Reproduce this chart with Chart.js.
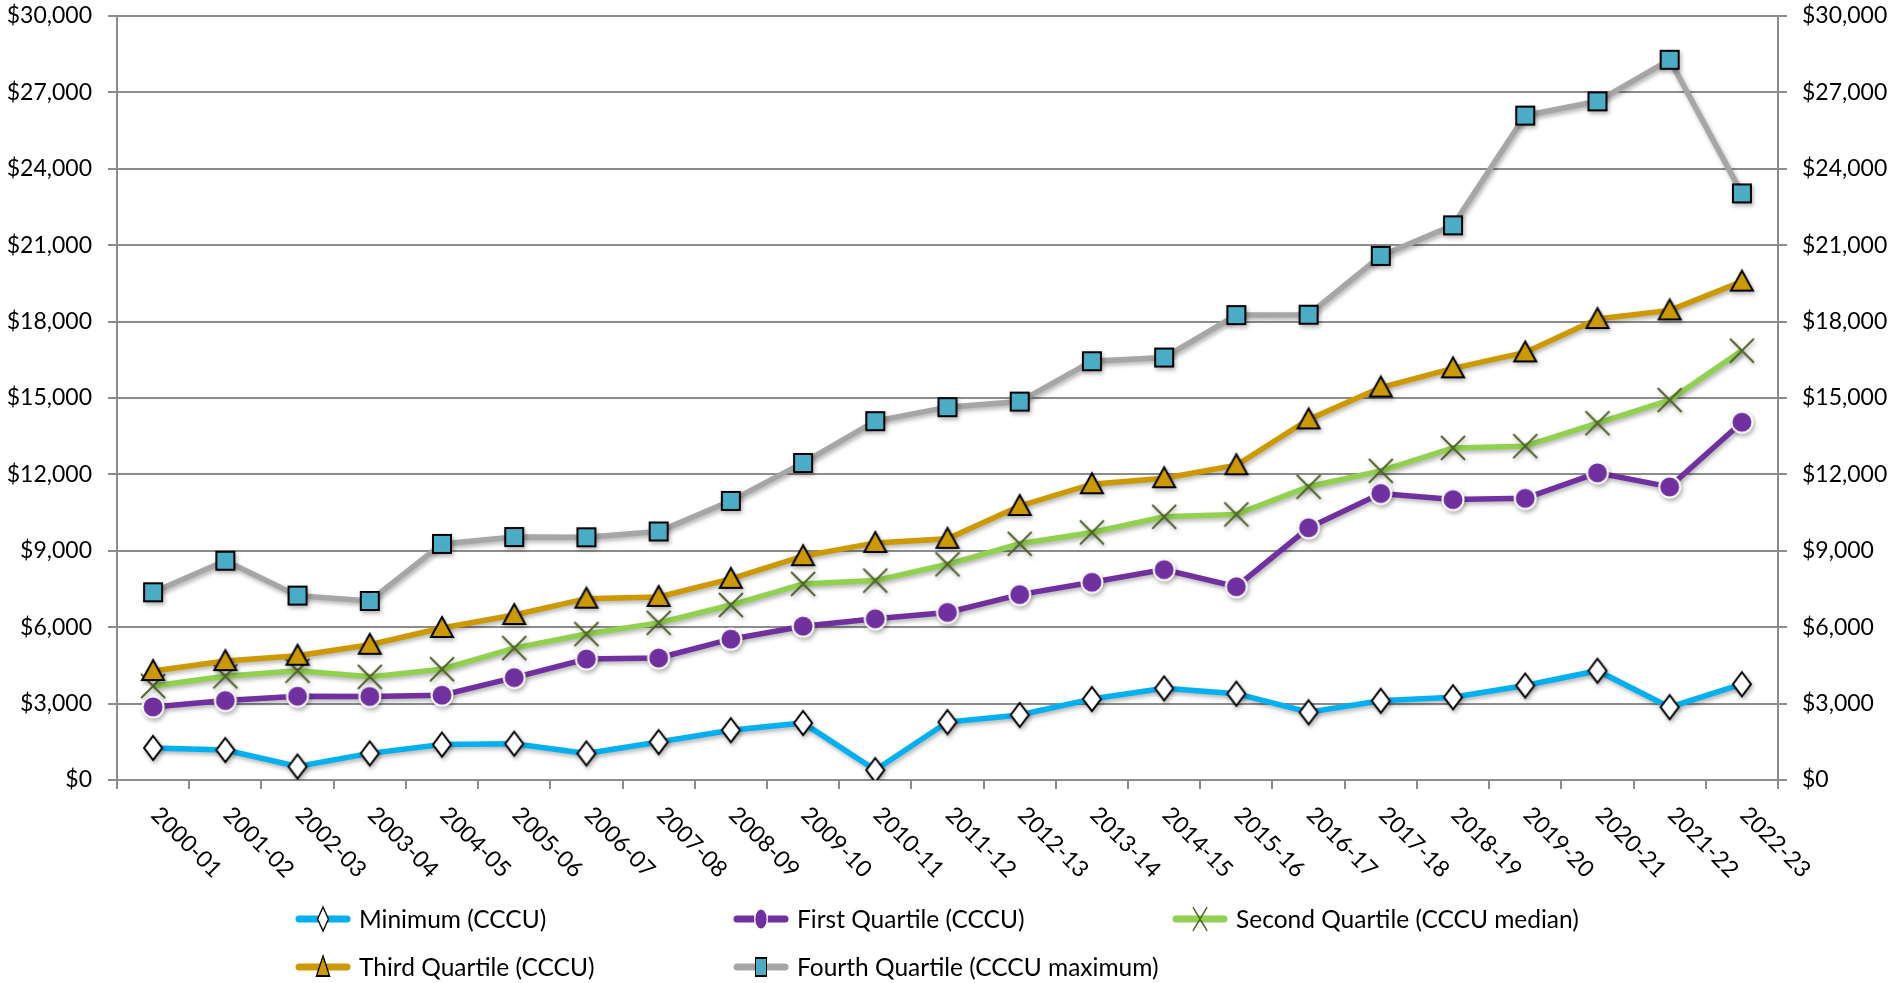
<!DOCTYPE html>
<html>
<head>
<meta charset="utf-8">
<script src="https://cdn.jsdelivr.net/npm/chart.js@4"></script>
<style>
  html, body { margin: 0; padding: 0; background: #fff; }
  #wrap { width: 1891px; height: 983px; position: relative; }
</style>
</head>
<body>
<div id="wrap"><canvas id="quartile-chart"></canvas></div>
<script>
const years = ['2000-01', '2001-02', '2002-03', '2003-04', '2004-05', '2005-06', '2006-07', '2007-08',
  '2008-09', '2009-10', '2010-11', '2011-12', '2012-13', '2013-14', '2014-15', '2015-16',
  '2016-17', '2017-18', '2018-19', '2019-20', '2020-21', '2021-22', '2022-23']

const minimum = [1260, 1180, 530, 1045, 1390, 1425, 1045, 1490, 1955, 2240, 390, 2275,
  2555, 3180, 3600, 3390, 2660, 3110, 3250, 3710, 4290, 2860, 3760]
const firstQuartile = [2870, 3120, 3290, 3280, 3330, 4020, 4750, 4790, 5530, 6040, 6330, 6580,
  7280, 7765, 8260, 7590, 9905, 11250, 11010, 11060, 12060, 11510, 14050]
const secondQuartile = [3690, 4070, 4290, 4050, 4350, 5180, 5730, 6170, 6870, 7700, 7830, 8470,
  9275, 9720, 10335, 10430, 11515, 12140, 13040, 13110, 14010, 14920, 16860]
const thirdQuartile = [4280, 4670, 4880, 5310, 5970, 6480, 7120, 7190, 7900, 8790, 9310, 9470,
  10760, 11615, 11850, 12360, 14160, 15410, 16165, 16790, 18100, 18440, 19570]
const fourthQuartile = [7370, 8610, 7240, 7030, 9270, 9540, 9530, 9760, 10960, 12450, 14090, 14640,
  14860, 16445, 16590, 18255, 18270, 20580, 21780, 26090, 26650, 28280, 23035]

const seriesNames = ['Minimum (CCCU)', 'First Quartile (CCCU)', 'Second Quartile (CCCU median)',
  'Third Quartile (CCCU)', 'Fourth Quartile (CCCU maximum)']

const FONT = 'Lato, "Open Sans", sans-serif'
const GRID = '#8c8c8c'

// marker pictures, drawn once on small canvases
function marker(draw) {
  const c = document.createElement('canvas')
  c.width = 30
  c.height = 30
  const ctx = c.getContext('2d')
  ctx.translate(15, 15)
  draw(ctx)
  return c
}

const diamond = marker(ctx => {
  ctx.beginPath()
  ctx.moveTo(0, -12); ctx.lineTo(9, 0); ctx.lineTo(0, 12); ctx.lineTo(-9, 0); ctx.closePath()
  ctx.fillStyle = '#fff'; ctx.fill()
  ctx.lineWidth = 2; ctx.strokeStyle = '#000'; ctx.stroke()
})
const circle = marker(ctx => {
  ctx.beginPath()
  ctx.arc(0, 0, 10.5, 0, Math.PI * 2)
  ctx.fillStyle = '#7030A0'; ctx.fill()
  ctx.lineWidth = 2; ctx.strokeStyle = '#fff'; ctx.stroke()
})
const cross = marker(ctx => {
  ctx.beginPath()
  ctx.moveTo(-12, -12); ctx.lineTo(12, 12)
  ctx.moveTo(12, -12); ctx.lineTo(-12, 12)
  ctx.lineWidth = 2; ctx.strokeStyle = '#4F6228'; ctx.stroke()
})
const triangle = marker(ctx => {
  ctx.beginPath()
  ctx.moveTo(0, -11); ctx.lineTo(11, 9); ctx.lineTo(-11, 9); ctx.closePath()
  ctx.fillStyle = '#CC9900'; ctx.fill()
  ctx.lineWidth = 2; ctx.strokeStyle = '#000'; ctx.stroke()
})
const square = marker(ctx => {
  ctx.beginPath()
  ctx.rect(-9, -9, 18, 18)
  ctx.fillStyle = '#4BACC6'; ctx.fill()
  ctx.lineWidth = 2; ctx.strokeStyle = '#000'; ctx.stroke()
})

function series(label, data, color, style, order) {
  return {
    label: label,
    data: data,
    borderColor: color,
    backgroundColor: color,
    borderWidth: 5.5,
    tension: 0,
    pointStyle: style,
    pointRadius: 10,
    pointHoverRadius: 10,
    order: order
  }
}

// soft shadow under lines and markers, as in the original
const shadowPlugin = {
  id: 'shadow',
  beforeDatasetDraw(chart) {
    const ctx = chart.ctx
    ctx.save()
    ctx.shadowColor = 'rgba(0,0,0,0.3)'
    ctx.shadowBlur = 4
    ctx.shadowOffsetX = 1.5
    ctx.shadowOffsetY = 2.5
  },
  afterDatasetDraw(chart) {
    chart.ctx.restore()
  }
}

// slanted category labels (reading down to the right)
const xLabelPlugin = {
  id: 'xLabels',
  afterDraw(chart) {
    const ctx = chart.ctx
    const scale = chart.scales.x
    ctx.save()
    ctx.font = '23px ' + FONT
    ctx.fillStyle = '#000'
    ctx.textAlign = 'left'
    ctx.textBaseline = 'middle'
    years.forEach((label, i) => {
      const x = scale.getPixelForTick(i)
      ctx.save()
      ctx.translate(x + 2, chart.chartArea.bottom + 31)
      ctx.rotate(Math.PI / 4)
      ctx.fillText(label, 0, 0)
      ctx.restore()
    })
    ctx.restore()
  }
}

// legend in fixed columns under the chart
const legendPlugin = {
  id: 'gridLegend',
  afterDraw(chart) {
    const ctx = chart.ctx
    const spots = [[295, 919], [733, 919], [1172, 919], [295, 967], [733, 967]]
    ctx.save()
    ctx.font = '24.5px ' + FONT
    ctx.textAlign = 'left'
    ctx.textBaseline = 'middle'
    chart.data.datasets.forEach((ds, i) => {
      const [x, y] = spots[i]
      ctx.beginPath()
      ctx.moveTo(x + 4, y)
      ctx.lineTo(x + 52, y)
      ctx.lineWidth = 7
      ctx.lineCap = 'round'
      ctx.strokeStyle = ds.borderColor
      ctx.stroke()
      const m = ds.pointStyle
      ctx.drawImage(m, x + 28 - 9, y - 15, 18, 30)
      ctx.fillStyle = '#000'
      ctx.fillText(ds.label, x + 64, y + 1)
    })
    ctx.restore()
  }
}

const money = v => '$' + v.toLocaleString('en-US')

// fixed axis sizes so the plot area sits where the original one does
function fitY(width) {
  return scale => {
    scale.width = width
    scale.paddingTop = 0
    scale.paddingBottom = 0
  }
}

const chartData = {
  type: 'line',
  data: {
    labels: years,
    datasets: [
      series(seriesNames[0], minimum, '#00B0F0', diamond, 5),
      series(seriesNames[1], firstQuartile, '#7030A0', circle, 4),
      series(seriesNames[2], secondQuartile, '#92D050', cross, 3),
      series(seriesNames[3], thirdQuartile, '#CC9900', triangle, 2),
      series(seriesNames[4], fourthQuartile, '#A6A6A6', square, 1)
    ]
  },
  options: {
    responsive: true,
    maintainAspectRatio: false,
    animation: false,
    devicePixelRatio: 1,
    layout: { padding: { top: 16, left: 0, right: 0, bottom: 0 } },
    scales: {
      x: {
        offset: true,
        grid: { offset: true, drawOnChartArea: false, color: GRID, lineWidth: 2, tickLength: 9 },
        border: { color: GRID, width: 2 },
        ticks: { display: false },
        afterFit(scale) { scale.height = 203 }
      },
      y: {
        position: 'left',
        min: 0,
        max: 30000,
        ticks: { stepSize: 3000, callback: money, color: '#000', font: { family: FONT, size: 23 }, padding: 16 },
        grid: { color: GRID, lineWidth: 2, tickLength: 9 },
        border: { color: GRID, width: 2 },
        afterFit: fitY(117)
      },
      y2: {
        position: 'right',
        min: 0,
        max: 30000,
        ticks: { stepSize: 3000, callback: money, color: '#000', font: { family: FONT, size: 23 }, padding: 15 },
        grid: { drawOnChartArea: false, color: GRID, lineWidth: 2, tickLength: 9 },
        border: { color: GRID, width: 2 },
        afterFit: fitY(113)
      }
    },
    plugins: {
      legend: { display: false },
      tooltip: { enabled: false }
    }
  },
  plugins: [shadowPlugin, xLabelPlugin, legendPlugin]
}

const quartileChart = new Chart(document.getElementById('quartile-chart'), chartData)
</script>
</body>
</html>
